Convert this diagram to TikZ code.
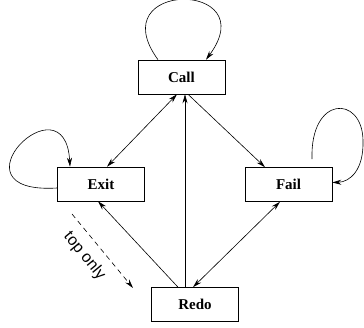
\documentclass[tikz,border=0pt]{standalone}
\usepackage{fontspec}
\setmainfont{Liberation Serif}
\newfontfamily\labelfont{Liberation Sans}
\usetikzlibrary{arrows.meta}
\tikzset{port/.style={draw,line width=0.6pt,minimum width=87pt,minimum height=34pt,inner sep=0pt,
    font=\bfseries\fontsize{15}{18}\selectfont}}
\begin{document}
\begin{tikzpicture}[x=1pt,y=-1pt,line width=0.6pt,>={Stealth[length=9pt,width=5pt]}]
            \useasboundingbox (0,0) rectangle (364,328);
            \node[port] (call) at (181.5,77) {Call}; % arriba
            \node[port] (exit) at (101,184) {Exit};
            \node[port] (fail) at (288.5,184.5) {Fail};
            \node[port] (redo) at (195,304.5) {Redo}; % abajo
            \draw[<->] ([xshift=-4.5pt]call.south) -- ([xshift=6pt]exit.north);
            \draw[->] ([xshift=6.5pt]call.south) -- ([xshift=-23.5pt]fail.north);
            \draw[->] ([xshift=-10pt]redo.north) -- ([xshift=3.5pt]call.south);
            \draw[->] ([xshift=-17pt]redo.north) -- ([xshift=-3pt]exit.south);
            \draw[<->] ([xshift=-2pt]redo.north) -- ([xshift=-8.5pt]fail.south);
            \draw[->] ([xshift=-23.5pt]call.north) .. controls (100,-20) and (265,-20) .. ([xshift=24.5pt]call.north); % lazo Call
            \draw[->] ([yshift=-4pt]exit.west) .. controls (-55,195) and (65,75) .. ([xshift=-31pt]exit.north); % lazo Exit
            \coordinate (failr) at (363,140);
            \draw[->] ([xshift=23.5pt,yshift=8pt]fail.north) .. controls (310,95) and (362,95) .. (failr)
                .. controls (364,170) and (350,182) .. ([yshift=2pt]fail.east); % lazo Fail
            \coordinate (topa) at (72,214);
            \coordinate (topb) at (133,288);
            \draw[->,dash pattern=on 5pt off 4pt] (topa) -- (topb) node[pos=0.42,sloped,below=6pt,font=\labelfont\fontsize{16}{19}\selectfont] {top only};
\end{tikzpicture}
\end{document}
